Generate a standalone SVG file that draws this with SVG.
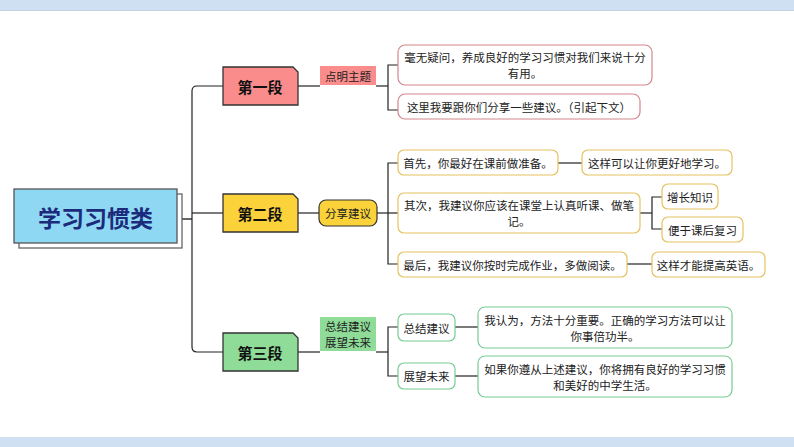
<svg xmlns="http://www.w3.org/2000/svg" width="794" height="447" viewBox="0 0 794 447">
<style>
text{font-family:"Noto Sans CJK SC","Liberation Sans",sans-serif;fill:#222;text-anchor:middle;dominant-baseline:central}
.t{font-size:11.5px}
.b{font-size:15px;font-weight:bold;fill:#111}
.ln{fill:none;stroke:#222;stroke-width:1.2}
.pk{fill:#fff;stroke:#d4868e;stroke-width:1.2}
.yl{fill:#fff;stroke:#e6c25e;stroke-width:1.2}
.gr{fill:#fff;stroke:#79cc95;stroke-width:1.2}
.br{stroke:#333;stroke-width:1.3}
</style>
<rect x="0" y="0" width="794" height="447" fill="#fff"/>
<rect x="0" y="0" width="794" height="10" fill="#cfe0f2"/>
<line x1="0" y1="10.5" x2="794" y2="10.5" stroke="#c5d2e8" stroke-width="1"/>
<rect x="0" y="437" width="794" height="10" fill="#cfe0f2"/>

<g id="connectors">
<line x1="182" y1="219" x2="192" y2="219" stroke="#666" stroke-width="2"/>
<path class="ln" d="M223 86 H197 Q192 86 192 91 V347 Q192 352 197 352 H223"/>
<line class="ln" x1="192" y1="213" x2="223" y2="213"/>
<line class="ln" x1="298" y1="86" x2="320" y2="86"/>
<line class="ln" x1="376" y1="86" x2="388" y2="86"/>
<path class="ln" d="M398 65 H388 V110 H398"/>
<line class="ln" x1="298" y1="213" x2="319" y2="213"/>
<line class="ln" x1="377" y1="213" x2="398" y2="213"/>
<path class="ln" d="M398 163 H388 V264 H398"/>
<line class="ln" x1="558" y1="163" x2="582" y2="163"/>
<line class="ln" x1="640" y1="213" x2="652" y2="213"/>
<path class="ln" d="M662 197 H652 V229 H662"/>
<line class="ln" x1="627" y1="264" x2="652" y2="264"/>
<line class="ln" x1="298" y1="352" x2="320" y2="352"/>
<line class="ln" x1="376" y1="352" x2="388" y2="352"/>
<path class="ln" d="M398 327 H388 V376 H398"/>
<line class="ln" x1="455" y1="327" x2="478" y2="327"/>
<line class="ln" x1="455" y1="376" x2="478" y2="376"/>
</g>

<g id="root">
<rect x="19" y="194" width="163" height="54" fill="#fff" stroke="#666" stroke-width="1.3"/>
<rect x="14" y="189" width="163" height="54" fill="#8fd8f4" stroke="#555" stroke-width="1.3"/>
<text x="95.5" y="216.5" style="font-size:23px;font-weight:bold;fill:#1b2a7a">学习习惯类</text>
</g>

<g id="b1">
<polygon class="br" points="223,67 293,67 298,72 298,105 223,105" fill="#fa8c8c"/>
<text class="b" x="260" y="86">第一段</text>
</g>
<g id="b1label">
<rect x="320" y="66" width="56" height="19" fill="#fa8c8c"/>
<text class="t" x="348" y="75.5">点明主题</text>
</g>
<g id="p1">
<rect class="pk" x="398" y="45" width="254" height="40" rx="7"/>
<text class="t" x="525" y="57">毫无疑问，养成良好的学习习惯对我们来说十分</text>
<text class="t" x="525" y="73">有用。</text>
</g>
<g id="p2">
<rect class="pk" x="398" y="94" width="242" height="25" rx="7"/>
<text class="t" x="519" y="106.5">这里我要跟你们分享一些建议。（引起下文）</text>
</g>

<g id="b2">
<polygon class="br" points="223,194 293,194 298,199 298,232 223,232" fill="#fcd23b"/>
<text class="b" x="260" y="213">第二段</text>
</g>
<g id="b2label">
<rect x="319" y="200" width="58" height="26" rx="7" fill="#fcd23b" stroke="#333" stroke-width="1.2"/>
<text class="t" x="348" y="213">分享建议</text>
</g>
<g id="y1">
<rect class="yl" x="398" y="150" width="160" height="25" rx="6"/>
<text class="t" x="478" y="162.5">首先，你最好在课前做准备。</text>
</g>
<g id="y1a">
<rect class="yl" x="582" y="150" width="150" height="25" rx="6"/>
<text class="t" x="657" y="162.5">这样可以让你更好地学习。</text>
</g>
<g id="y2">
<rect class="yl" x="398" y="193" width="242" height="40" rx="6"/>
<text class="t" x="519" y="205">其次，我建议你应该在课堂上认真听课、做笔</text>
<text class="t" x="519" y="221">记。</text>
</g>
<g id="y2a">
<rect class="yl" x="662" y="184" width="56" height="25" rx="6"/>
<text class="t" x="690" y="196.5">增长知识</text>
</g>
<g id="y2b">
<rect class="yl" x="662" y="217" width="81" height="25" rx="6"/>
<text class="t" x="702.5" y="229.5">便于课后复习</text>
</g>
<g id="y3">
<rect class="yl" x="398" y="252" width="229" height="25" rx="6"/>
<text class="t" x="512.5" y="264.5">最后，我建议你按时完成作业，多做阅读。</text>
</g>
<g id="y3a">
<rect class="yl" x="652" y="252" width="113" height="25" rx="6"/>
<text class="t" x="708.5" y="264.5">这样才能提高英语。</text>
</g>

<g id="b3">
<polygon class="br" points="223,333 293,333 298,338 298,371 223,371" fill="#8edc97"/>
<text class="b" x="260" y="352">第三段</text>
</g>
<g id="b3label">
<rect x="320" y="317" width="56" height="34" fill="#8edc97"/>
<text class="t" x="348" y="326">总结建议</text>
<text class="t" x="348" y="342">展望未来</text>
</g>
<g id="g1">
<rect class="gr" x="398" y="314" width="57" height="27" rx="6"/>
<text class="t" x="426.5" y="327.5">总结建议</text>
</g>
<g id="g2">
<rect class="gr" x="398" y="363" width="57" height="26" rx="6"/>
<text class="t" x="426.5" y="376">展望未来</text>
</g>
<g id="g1a">
<rect class="gr" x="478" y="307" width="254" height="41" rx="7"/>
<text class="t" x="605" y="320">我认为，方法十分重要。正确的学习方法可以让</text>
<text class="t" x="605" y="336">你事倍功半。</text>
</g>
<g id="g2a">
<rect class="gr" x="478" y="356" width="254" height="41" rx="7"/>
<text class="t" x="605" y="369">如果你遵从上述建议，你将拥有良好的学习习惯</text>
<text class="t" x="605" y="385">和美好的中学生活。</text>
</g>
</svg>
